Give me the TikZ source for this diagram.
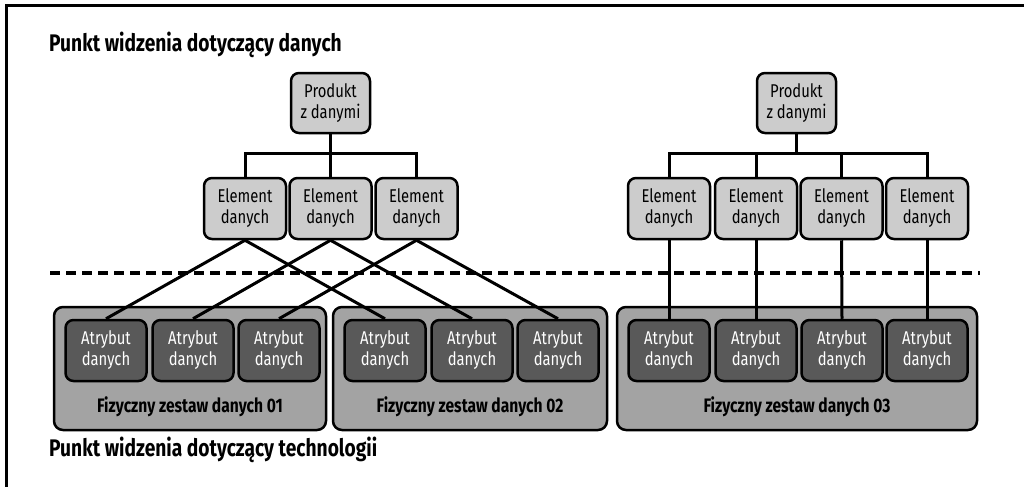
\documentclass[tikz,border=0pt]{standalone}
\usepackage{fontspec}
\setmainfont[FakeStretch=0.8]{Fira Sans}
\begin{document}
\begin{tikzpicture}[x=1pt,y=-1pt,
  box/.style={draw=black, line width=2.5pt, rounded corners=8pt, align=center, inner sep=0pt, font=\fontsize{18.5}{21}\selectfont},
  prodbox/.style={box, fill=black!20, minimum width=79pt, minimum height=60pt},
  elembox/.style={box, fill=black!20, minimum width=82pt, minimum height=61pt},
  attrbox/.style={box, fill=black!65, text=white, minimum width=81pt, minimum height=61pt},
  setbox/.style={draw=black, line width=2.5pt, rounded corners=9pt, fill=black!36, inner sep=0pt},
  setlabel/.style={font=\fontsize{19.5}{22}\selectfont\bfseries, inner sep=0pt},
  title/.style={font=\fontsize{24}{27}\selectfont\bfseries, anchor=west, inner sep=0pt},
  conn/.style={line width=3pt},
  sep/.style={line width=4pt, dash pattern=on 10pt off 6pt}
]
\useasboundingbox (0,0) rectangle (1024,487);
% frame (top and left)
\coordinate (f1) at (1024,6);
\coordinate (f0) at (6,6);
\coordinate (f2) at (6,487);
\draw[line width=3pt] (f1) -- (f0) -- (f2);

% titles
\node[title] (t1) at (49,45) {Punkt widzenia dotyczący danych};
\node[title] (t2) at (49,450) {Punkt widzenia dotyczący technologii};

% separator
\coordinate (d1) at (50,273);
\coordinate (d2) at (980,273);
\draw[sep] (d1) -- (d2);

% physical sets
\node[setbox, minimum width=272pt, minimum height=123pt] (s1) at (190,368.5) {};
\node[setbox, minimum width=274pt, minimum height=123pt] (s2) at (470,368.5) {};
\node[setbox, minimum width=360pt, minimum height=123pt] (s3) at (797,368.5) {};
\node[setlabel] (l1) at (190,407) {Fizyczny zestaw danych 01};
\node[setlabel] (l2) at (470,407) {Fizyczny zestaw danych 02};
\node[setlabel] (l3) at (797,407) {Fizyczny zestaw danych 03};

% attributes
\foreach \n/\x in {a1/106,a2/193,a3/279,a4/385,a5/472,a6/558,a7/669,a8/756,a9/842,a10/927}
  \node[attrbox] (\n) at (\x,350.5) {Atrybut\\danych};

% left tree
\node[prodbox] (p1) at (330.5,103) {Produkt\\z danymi};
\node[elembox] (e1) at (245,208.5) {Element\\danych};
\node[elembox] (e2) at (330.5,208.5) {Element\\danych};
\node[elembox] (e3) at (416.5,208.5) {Element\\danych};
\draw[conn] (p1.south) -- ++(0,19) coordinate (b1);
\draw[conn] (e1.north) |- (b1) -| (e3.north);
\draw[conn] (b1) -- (e2.north);

% right tree
\node[prodbox] (p2) at (796.5,103) {Produkt\\z danymi};
\node[elembox] (e4) at (669,208.5) {Element\\danych};
\node[elembox] (e5) at (756,208.5) {Element\\danych};
\node[elembox] (e6) at (841.5,208.5) {Element\\danych};
\node[elembox] (e7) at (927,208.5) {Element\\danych};
\draw[conn] (p2.south) -- ++(0,19) coordinate (b2);
\draw[conn] (e4.north) |- (b2) -| (e7.north);
\draw[conn] (e5.north) -- (e5.north |- b2);
\draw[conn] (e6.north) -- (e6.north |- b2);

% element to attribute links
\draw[conn] (e1.south) -- (a1.north);
\draw[conn] (e1.south) -- (a4.north);
\draw[conn] (e2.south) -- (a2.north);
\draw[conn] (e2.south) -- (a5.north);
\draw[conn] (e3.south) -- (a3.north);
\draw[conn] (e3.south) -- (a6.north);
\draw[conn] (e4.south) -- (a7.north);
\draw[conn] (e5.south) -- (a8.north);
\draw[conn] (e6.south) -- (a9.north);
\draw[conn] (e7.south) -- (a10.north);
\end{tikzpicture}
\end{document}
